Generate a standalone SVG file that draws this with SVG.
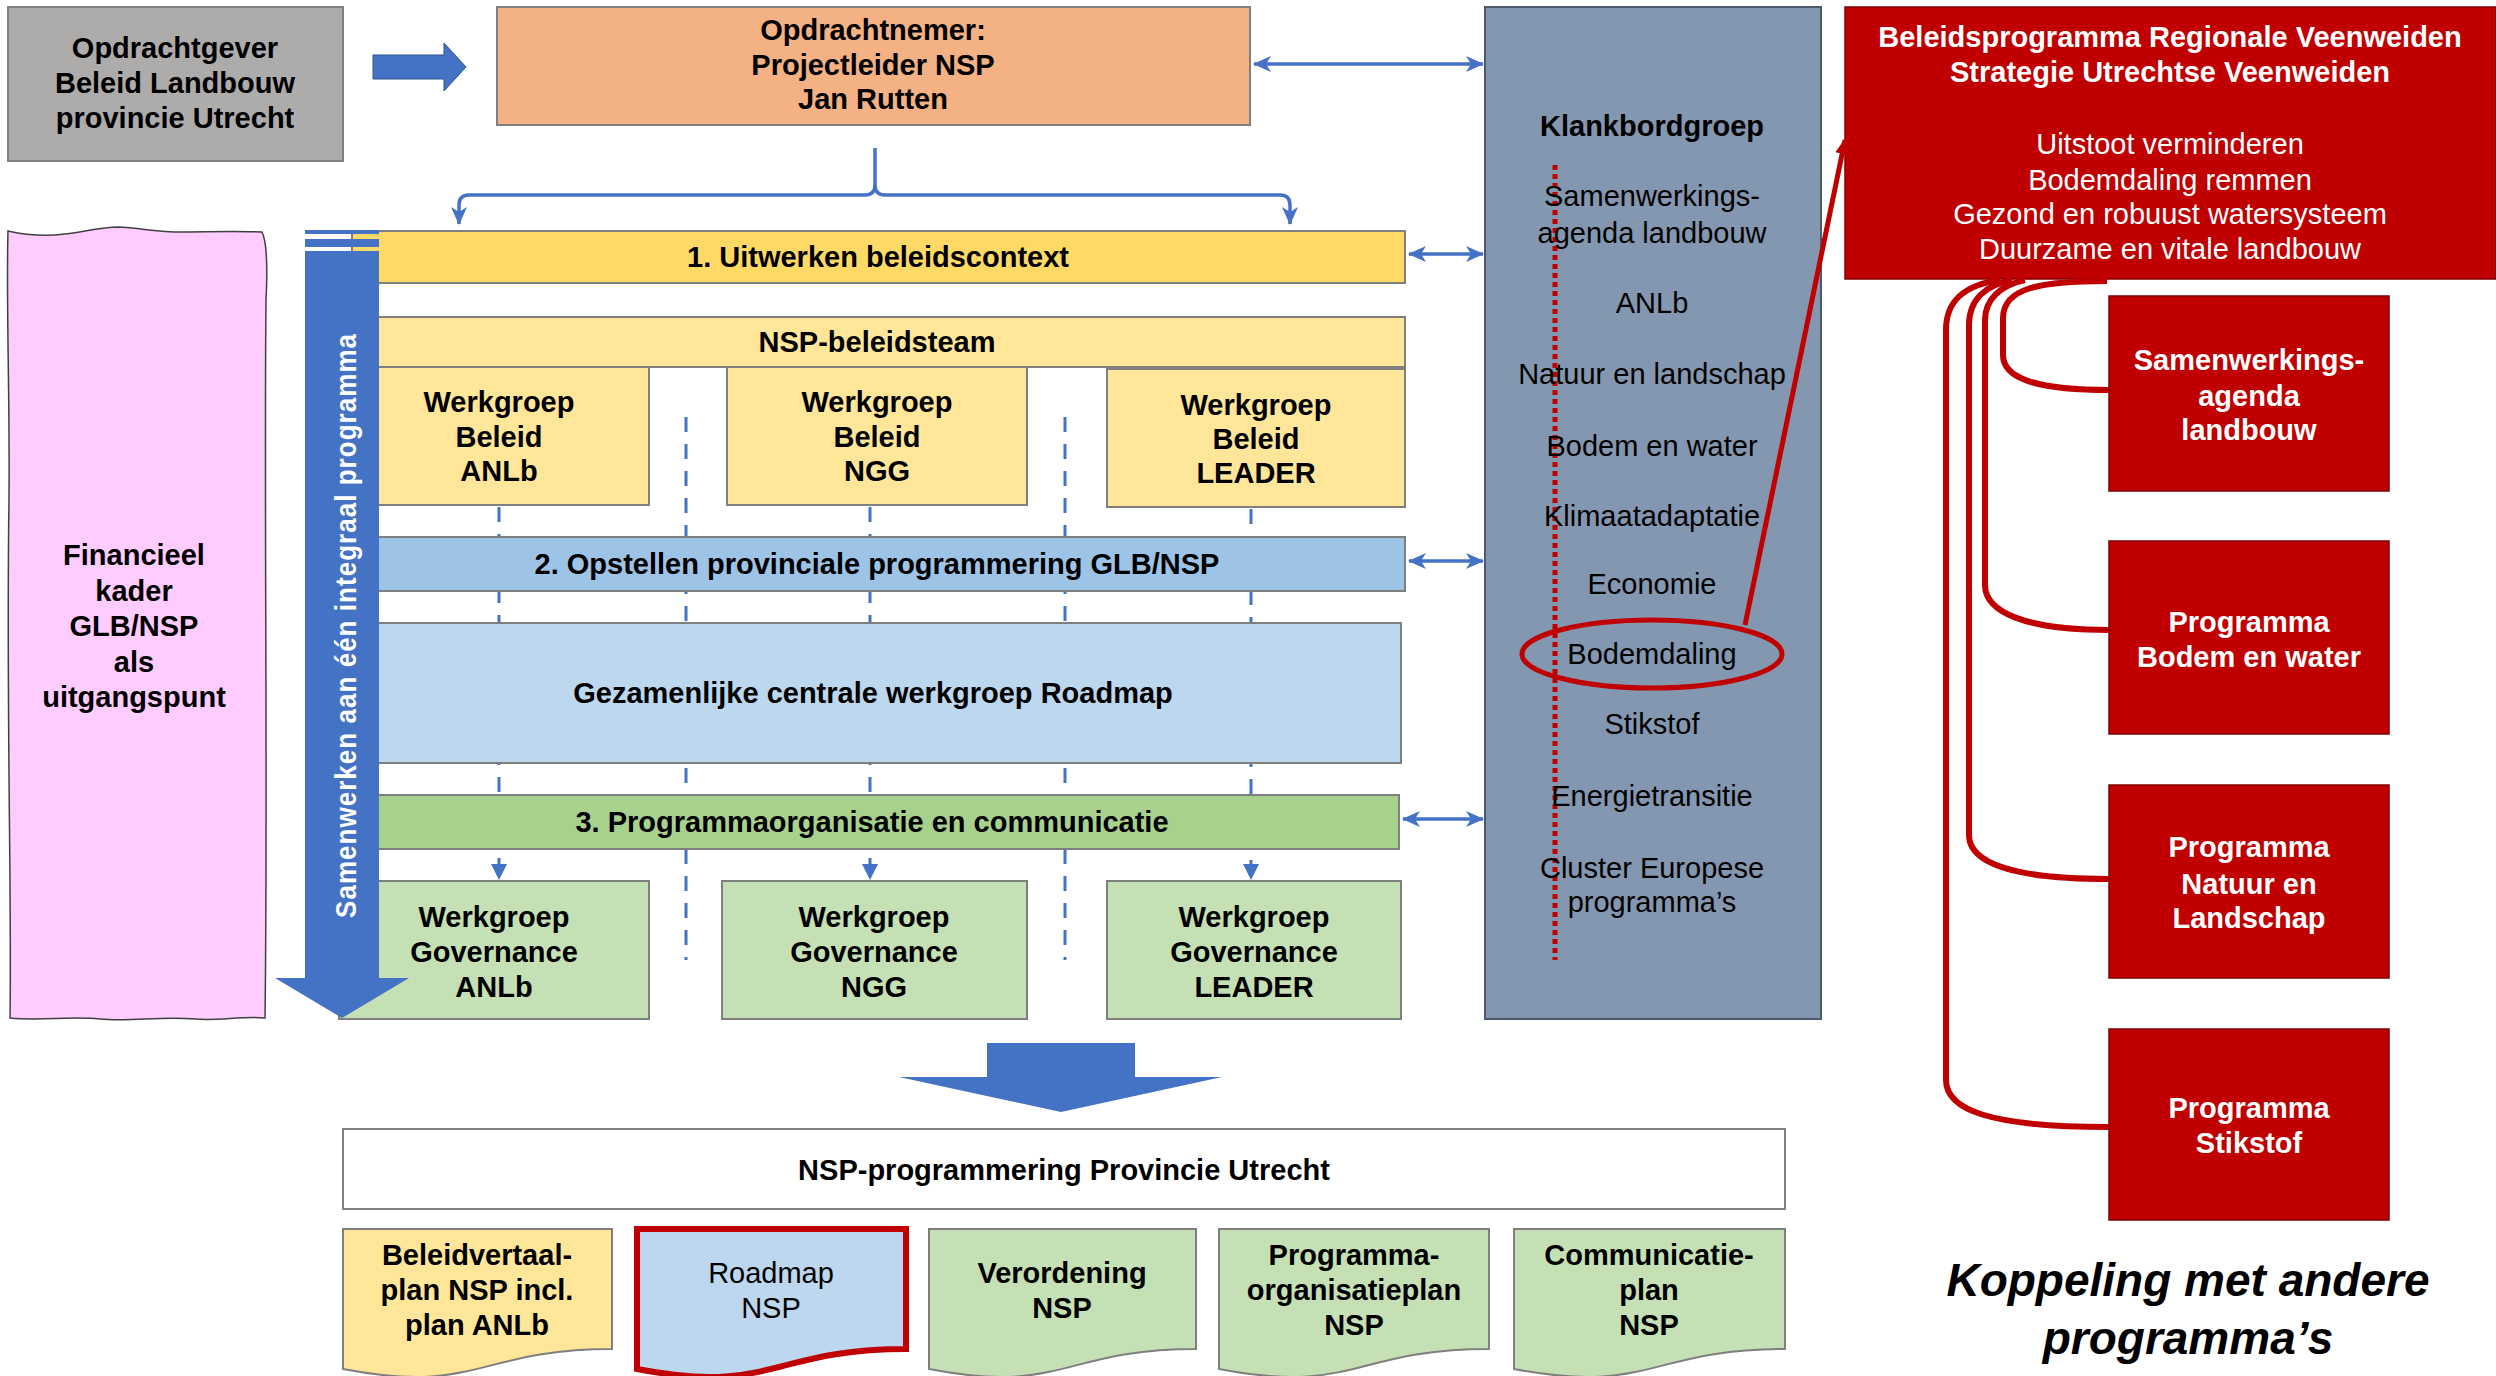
<svg xmlns="http://www.w3.org/2000/svg" width="2496" height="1376" viewBox="0 0 2496 1376">
<style>
.t{font-family:"Liberation Sans",Arial,sans-serif;font-size:29px;text-anchor:middle;fill:#000}
.b{font-weight:bold}
.w{fill:#fff}
.box{stroke:#7F7F7F;stroke-width:2}
.red{fill:#C00000;stroke:#7F0000;stroke-width:1.5}
.dash{stroke:#4472C4;stroke-width:3;stroke-dasharray:15 12;fill:none}
.bl{stroke:#4472C4;stroke-width:3.5;fill:none}
.rl{stroke:#C00000;stroke-width:6;fill:none}
</style>
<defs>
<marker id="ah" markerUnits="userSpaceOnUse" markerWidth="18" markerHeight="16" refX="17" refY="8" orient="auto-start-reverse" viewBox="0 0 18 16"><path d="M0,0 L18,8 L0,16 L5,8 z" fill="#4472C4"/></marker>
<marker id="tri" markerUnits="userSpaceOnUse" markerWidth="16" markerHeight="16" refX="15" refY="8" orient="auto" viewBox="0 0 16 16"><path d="M0,0 L16,8 L0,16 z" fill="#4472C4"/></marker>
<marker id="rah" markerUnits="userSpaceOnUse" markerWidth="16" markerHeight="14" refX="14" refY="7" orient="auto" viewBox="0 0 16 14"><path d="M0,0 L16,7 L0,14 z" fill="#C00000"/></marker>
</defs>
<rect width="2496" height="1376" fill="#fff"/>

<!-- pink financial frame -->
<g id="financieel">
<path d="M8,231 C30,236 50,236 65,234 C85,232 100,227 118,227 C140,228 155,232 175,232 C205,232 235,231 262,232 C266,240 268,260 266,300 C264,500 268,800 265,1018 C240,1016 220,1021 195,1019 C160,1016 130,1022 100,1019 C70,1016 40,1021 10,1018 C12,900 6,700 9,500 C10,400 6,300 8,231 Z" fill="#FFCCFF" stroke="#404040" stroke-width="1.5"/>
<text class="t b" x="134" y="565">Financieel</text>
<text class="t b" x="134" y="601">kader</text>
<text class="t b" x="134" y="636">GLB/NSP</text>
<text class="t b" x="134" y="672">als</text>
<text class="t b" x="134" y="707">uitgangspunt</text>
</g>

<g id="opdrachtgever">
<rect class="box" x="8" y="7" width="335" height="154" fill="#AEABAB" stroke="#595959"/>
<text class="t b" x="175" y="58">Opdrachtgever</text>
<text class="t b" x="175" y="93">Beleid Landbouw</text>
<text class="t b" x="175" y="128">provincie Utrecht</text>
</g>

<g id="pijl-opdracht">
<polygon points="373,55 444,55 444,43 466,67 444,91 444,79 373,79" fill="#4472C4" stroke="#2F528F" stroke-width="1"/>
</g>

<g id="opdrachtnemer">
<rect class="box" x="497" y="7" width="753" height="118" fill="#F4B183" stroke="#595959"/>
<text class="t b" x="873" y="40">Opdrachtnemer:</text>
<text class="t b" x="873" y="75">Projectleider NSP</text>
<text class="t b" x="873" y="109">Jan Rutten</text>
</g>

<g id="connectors">
<path class="bl" d="M875,148 L875,185 Q875,195 865,195 L469,195 Q459,195 459,205 L459,224" marker-end="url(#ah)"/>
<path class="bl" d="M875,185 Q875,195 885,195 L1280,195 Q1290,195 1290,205 L1290,224" marker-end="url(#ah)"/>
<line class="bl" x1="1254" y1="64" x2="1483" y2="64" marker-start="url(#ah)" marker-end="url(#ah)"/>
<line class="bl" x1="1409" y1="254" x2="1483" y2="254" marker-start="url(#ah)" marker-end="url(#ah)"/>
<line class="bl" x1="1409" y1="561" x2="1483" y2="561" marker-start="url(#ah)" marker-end="url(#ah)"/>
<line class="bl" x1="1403" y1="819" x2="1483" y2="819" marker-start="url(#ah)" marker-end="url(#ah)"/>
<line class="dash" x1="499" y1="507" x2="499" y2="879" marker-end="url(#tri)"/>
<line class="dash" x1="870" y1="507" x2="870" y2="879" marker-end="url(#tri)"/>
<line class="dash" x1="1251" y1="509" x2="1251" y2="879" marker-end="url(#tri)"/>
<line class="dash" x1="686" y1="417" x2="686" y2="960"/>
<line class="dash" x1="1065" y1="417" x2="1065" y2="960"/>
</g>

<g id="bar1">
<rect class="box" x="352" y="231" width="1053" height="52" fill="#FFD966"/>
<text class="t b" x="878" y="267">1. Uitwerken beleidscontext</text>
</g>
<g id="beleidsteam">
<rect class="box" x="352" y="317" width="1053" height="50" fill="#FFE699"/>
<text class="t b" x="877" y="352">NSP-beleidsteam</text>
</g>
<g id="wg-beleid-anlb">
<rect class="box" x="349" y="367" width="300" height="138" fill="#FFE699"/>
<text class="t b" x="499" y="412">Werkgroep</text>
<text class="t b" x="499" y="447">Beleid</text>
<text class="t b" x="499" y="481">ANLb</text>
</g>
<g id="wg-beleid-ngg">
<rect class="box" x="727" y="367" width="300" height="138" fill="#FFE699"/>
<text class="t b" x="877" y="412">Werkgroep</text>
<text class="t b" x="877" y="447">Beleid</text>
<text class="t b" x="877" y="481">NGG</text>
</g>
<g id="wg-beleid-leader">
<rect class="box" x="1107" y="369" width="298" height="138" fill="#FFE699"/>
<text class="t b" x="1256" y="415">Werkgroep</text>
<text class="t b" x="1256" y="449">Beleid</text>
<text class="t b" x="1256" y="483">LEADER</text>
</g>
<g id="bar2">
<rect class="box" x="352" y="537" width="1053" height="54" fill="#9DC3E6"/>
<text class="t b" x="877" y="574">2. Opstellen provinciale programmering GLB/NSP</text>
</g>
<g id="roadmap-werkgroep">
<rect class="box" x="346" y="623" width="1055" height="140" fill="#BDD7EE"/>
<text class="t b" x="873" y="703">Gezamenlijke centrale werkgroep Roadmap</text>
</g>
<g id="bar3">
<rect class="box" x="346" y="795" width="1053" height="54" fill="#A9D18E"/>
<text class="t b" x="872" y="832">3. Programmaorganisatie en communicatie</text>
</g>
<g id="wg-gov-anlb">
<rect class="box" x="339" y="881" width="310" height="138" fill="#C5E0B4"/>
<text class="t b" x="494" y="927">Werkgroep</text>
<text class="t b" x="494" y="962">Governance</text>
<text class="t b" x="494" y="997">ANLb</text>
</g>
<g id="wg-gov-ngg">
<rect class="box" x="722" y="881" width="305" height="138" fill="#C5E0B4"/>
<text class="t b" x="874" y="927">Werkgroep</text>
<text class="t b" x="874" y="962">Governance</text>
<text class="t b" x="874" y="997">NGG</text>
</g>
<g id="wg-gov-leader">
<rect class="box" x="1107" y="881" width="294" height="138" fill="#C5E0B4"/>
<text class="t b" x="1254" y="927">Werkgroep</text>
<text class="t b" x="1254" y="962">Governance</text>
<text class="t b" x="1254" y="997">LEADER</text>
</g>

<g id="samenwerken-pijl">
<rect x="305" y="230" width="74" height="4" fill="#4472C4"/>
<rect x="305" y="239" width="74" height="8" fill="#4472C4"/>
<polygon points="305,251 379,251 379,978 409,978 342,1018 275,978 305,978" fill="#4472C4"/>
<text class="b" transform="translate(346,625) rotate(-90) scale(1,1.15)" x="0" y="0" text-anchor="middle" dominant-baseline="central" font-family="'Liberation Sans',Arial,sans-serif" font-size="26" fill="#fff" letter-spacing="2" textLength="586" lengthAdjust="spacing">Samenwerken aan één integraal programma</text>
</g>

<g id="klankbordgroep">
<rect x="1485" y="7" width="336" height="1012" fill="#8497B0" stroke="#4D5A6E" stroke-width="2"/>
<line x1="1555" y1="165" x2="1555" y2="960" stroke="#C00000" stroke-width="5" stroke-dasharray="5 4"/>
<text class="t b" x="1652" y="136">Klankbordgroep</text>
<text class="t" x="1652" y="206">Samenwerkings-</text>
<text class="t" x="1652" y="243">agenda landbouw</text>
<text class="t" x="1652" y="313">ANLb</text>
<text class="t" x="1652" y="384">Natuur en landschap</text>
<text class="t" x="1652" y="456">Bodem en water</text>
<text class="t" x="1652" y="526">Klimaatadaptatie</text>
<text class="t" x="1652" y="594">Economie</text>
<text class="t" x="1652" y="664">Bodemdaling</text>
<text class="t" x="1652" y="734">Stikstof</text>
<text class="t" x="1652" y="806">Energietransitie</text>
<text class="t" x="1652" y="878">Cluster Europese</text>
<text class="t" x="1652" y="912">programma’s</text>
<ellipse cx="1652" cy="654" rx="130" ry="34" fill="none" stroke="#C00000" stroke-width="5"/>
</g>

<g id="veenweiden">
<rect class="red" x="1845" y="7" width="651" height="272"/>
<text class="t b w" x="2170" y="47">Beleidsprogramma Regionale Veenweiden</text>
<text class="t b w" x="2170" y="82">Strategie Utrechtse Veenweiden</text>
<text class="t w" x="2170" y="154">Uitstoot verminderen</text>
<text class="t w" x="2170" y="190">Bodemdaling remmen</text>
<text class="t w" x="2170" y="224">Gezond en robuust watersysteem</text>
<text class="t w" x="2170" y="259">Duurzame en vitale landbouw</text>
</g>

<g id="red-connectors">
<line x1="1745" y1="625" x2="1845" y2="140" stroke="#C00000" stroke-width="5" marker-end="url(#rah)"/>
<path class="rl" d="M2000,280 C1965,285 1946,300 1946,330 L1946,1080 C1946,1110 1990,1127 2109,1127"/>
<path class="rl" d="M2012,280 C1985,285 1969,300 1969,325 L1969,835 C1969,862 2010,879 2109,879"/>
<path class="rl" d="M2025,280 C2000,285 1985,300 1985,320 L1985,585 C1985,612 2025,630 2109,630"/>
<path class="rl" d="M2107,281 C2040,281 2003,288 2003,318 L2003,355 C2003,378 2035,390 2109,390"/>
</g>

<g id="samenwerkingsagenda">
<rect class="red" x="2109" y="296" width="280" height="195"/>
<text class="t b w" x="2249" y="370">Samenwerkings-</text>
<text class="t b w" x="2249" y="406">agenda</text>
<text class="t b w" x="2249" y="440">landbouw</text>
</g>
<g id="bodem-water">
<rect class="red" x="2109" y="541" width="280" height="193"/>
<text class="t b w" x="2249" y="632">Programma</text>
<text class="t b w" x="2249" y="667">Bodem en water</text>
</g>
<g id="natuur-landschap">
<rect class="red" x="2109" y="785" width="280" height="193"/>
<text class="t b w" x="2249" y="857">Programma</text>
<text class="t b w" x="2249" y="894">Natuur en</text>
<text class="t b w" x="2249" y="928">Landschap</text>
</g>
<g id="stikstof">
<rect class="red" x="2109" y="1029" width="280" height="191"/>
<text class="t b w" x="2249" y="1118">Programma</text>
<text class="t b w" x="2249" y="1153">Stikstof</text>
</g>
<g id="koppeling">
<text class="b" x="2188" y="1296" text-anchor="middle" font-family="'Liberation Sans',Arial,sans-serif" font-size="46" font-style="italic">Koppeling met andere</text>
<text class="b" x="2188" y="1354" text-anchor="middle" font-family="'Liberation Sans',Arial,sans-serif" font-size="46" font-style="italic">programma’s</text>
</g>

<g id="pijl-resultaat">
<polygon points="987,1043 1135,1043 1135,1077 1222,1077 1061,1112 899,1077 987,1077" fill="#4472C4"/>
</g>

<g id="nsp-programmering">
<rect x="343" y="1129" width="1442" height="80" fill="#fff" stroke="#7F7F7F" stroke-width="2"/>
<text class="t b" x="1064" y="1180">NSP-programmering Provincie Utrecht</text>
</g>

<g id="doc-beleidvertaalplan">
<path d="M343,1229 L612,1229 L612,1349 C478,1349 478,1395 343,1369 Z" fill="#FFE699" stroke="#7F7F7F" stroke-width="2"/>
<text class="t b" x="477" y="1265">Beleidvertaal-</text>
<text class="t b" x="477" y="1300">plan NSP incl.</text>
<text class="t b" x="477" y="1335">plan ANLb</text>
</g>
<g id="doc-roadmap">
<path d="M637,1229 L906,1229 L906,1349 C772,1349 772,1395 637,1369 Z" fill="#BDD7EE" stroke="#C00000" stroke-width="6"/>
<text class="t" x="771" y="1283">Roadmap</text>
<text class="t" x="771" y="1318">NSP</text>
</g>
<g id="doc-verordening">
<path d="M929,1229 L1196,1229 L1196,1349 C1063,1349 1063,1395 929,1369 Z" fill="#C5E0B4" stroke="#7F7F7F" stroke-width="2"/>
<text class="t b" x="1062" y="1283">Verordening</text>
<text class="t b" x="1062" y="1318">NSP</text>
</g>
<g id="doc-organisatieplan">
<path d="M1219,1229 L1489,1229 L1489,1349 C1354,1349 1354,1395 1219,1369 Z" fill="#C5E0B4" stroke="#7F7F7F" stroke-width="2"/>
<text class="t b" x="1354" y="1265">Programma-</text>
<text class="t b" x="1354" y="1300">organisatieplan</text>
<text class="t b" x="1354" y="1335">NSP</text>
</g>
<g id="doc-communicatieplan">
<path d="M1514,1229 L1785,1229 L1785,1349 C1650,1349 1650,1395 1514,1369 Z" fill="#C5E0B4" stroke="#7F7F7F" stroke-width="2"/>
<text class="t b" x="1649" y="1265">Communicatie-</text>
<text class="t b" x="1649" y="1300">plan</text>
<text class="t b" x="1649" y="1335">NSP</text>
</g>
</svg>
